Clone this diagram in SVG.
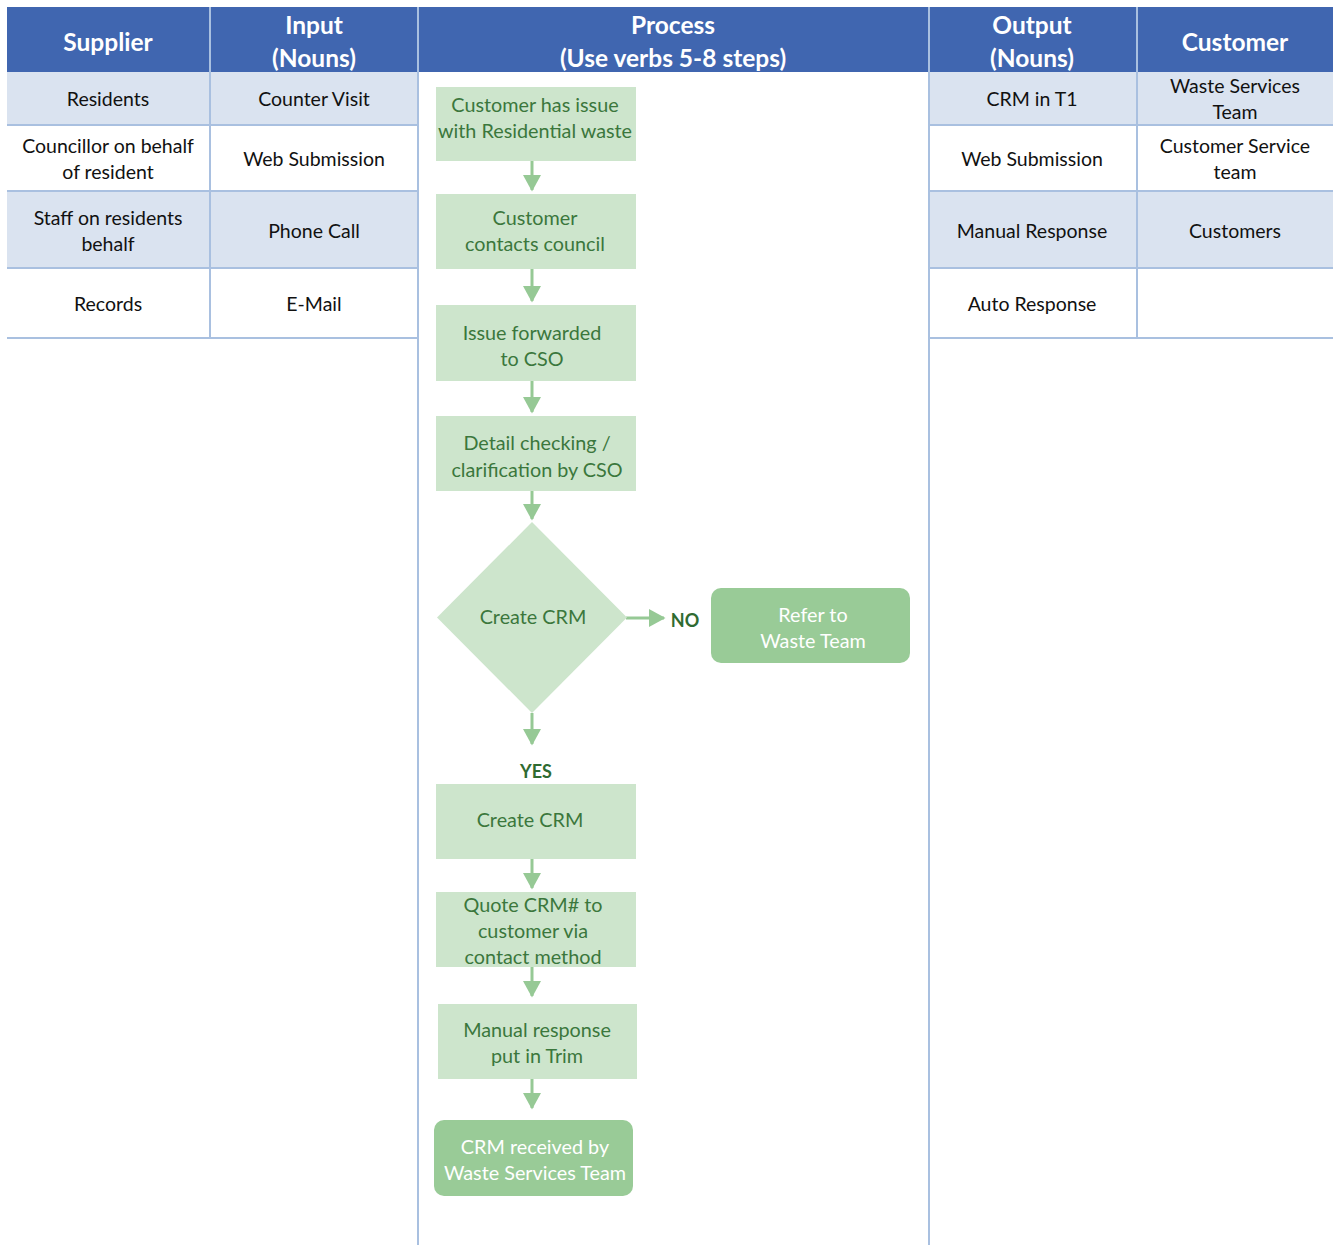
<svg xmlns="http://www.w3.org/2000/svg" width="1338" height="1245" viewBox="0 0 1338 1245">
<style>
.hdr{fill:#4066B0}
.hd{font-family:Lato,"Liberation Sans",sans-serif;font-weight:bold;font-size:24.5px;fill:#fff;text-anchor:middle;dominant-baseline:central}
.band{fill:#DAE3F0}
.grid{stroke:#A9C0E0;stroke-width:2;fill:none}
.cell{font-family:Lato,"Liberation Sans",sans-serif;font-size:19.5px;fill:#111;text-anchor:middle;dominant-baseline:central}
.box{fill:#CDE5CC}
.rbox{fill:#99CB97}
.bt{font-family:Lato,"Liberation Sans",sans-serif;font-size:19.8px;fill:#3B773C;text-anchor:middle;dominant-baseline:central}
.wt{font-family:Lato,"Liberation Sans",sans-serif;font-size:19.8px;fill:#fff;text-anchor:middle;dominant-baseline:central}
.lbl{font-family:Lato,"Liberation Sans",sans-serif;font-size:18px;font-weight:bold;fill:#2F6B31;text-anchor:middle;dominant-baseline:central}
.conn{stroke:#96C995;stroke-width:3;fill:none}
</style>
<defs>
<marker id="ah" markerWidth="6" markerHeight="6" refX="5" refY="3" orient="auto" markerUnits="strokeWidth">
<path d="M0,0 L5.5,3 L0,6 Z" fill="#96C995"/>
</marker>
</defs>
<rect width="1338" height="1245" fill="#fff"/>
<g id="table">
<rect class="hdr" x="7" y="7" width="1326" height="65"/>
<rect class="band" x="7" y="72" width="410" height="53"/>
<rect class="band" x="930" y="72" width="403" height="53"/>
<rect class="band" x="7" y="191" width="410" height="77"/>
<rect class="band" x="930" y="191" width="403" height="77"/>
<path class="grid" d="M7,125 H417 M7,191 H417 M7,268 H417 M7,338 H417 M930,125 H1333 M930,191 H1333 M930,268 H1333 M930,338 H1333"/>
<path class="grid" d="M210,72 V338 M1137,72 V338 M418,72 V1245 M929,72 V1245"/>
<path d="M210,7 V72 M418,7 V72 M929,7 V72 M1137,7 V72" stroke="#A9C0E0" stroke-width="2"/>
<text class="hd" x="108" y="41">Supplier</text>
<text class="hd" x="314" y="24">Input</text>
<text class="hd" x="314" y="57">(Nouns)</text>
<text class="hd" x="673" y="24">Process</text>
<text class="hd" x="673" y="57">(Use verbs 5-8 steps)</text>
<text class="hd" x="1032" y="24">Output</text>
<text class="hd" x="1032" y="57">(Nouns)</text>
<text class="hd" x="1235" y="41">Customer</text>
<text class="cell" x="108" y="98">Residents</text>
<text class="cell" x="314" y="98">Counter Visit</text>
<text class="cell" x="108" y="145">Councillor on behalf</text>
<text class="cell" x="108" y="171">of resident</text>
<text class="cell" x="314" y="158">Web Submission</text>
<text class="cell" x="108" y="217">Staff on residents</text>
<text class="cell" x="108" y="243">behalf</text>
<text class="cell" x="314" y="230">Phone Call</text>
<text class="cell" x="108" y="303">Records</text>
<text class="cell" x="314" y="303">E-Mail</text>
<text class="cell" x="1032" y="98">CRM in T1</text>
<text class="cell" x="1235" y="85">Waste Services</text>
<text class="cell" x="1235" y="111">Team</text>
<text class="cell" x="1032" y="158">Web Submission</text>
<text class="cell" x="1235" y="145">Customer Service</text>
<text class="cell" x="1235" y="171">team</text>
<text class="cell" x="1032" y="230">Manual Response</text>
<text class="cell" x="1235" y="230">Customers</text>
<text class="cell" x="1032" y="303">Auto Response</text>
</g>
<g id="connectors">
<path class="conn" d="M532,161 V190" marker-end="url(#ah)"/>
<path class="conn" d="M532,269 V301" marker-end="url(#ah)"/>
<path class="conn" d="M532,381 V412" marker-end="url(#ah)"/>
<path class="conn" d="M532,491 V519" marker-end="url(#ah)"/>
<path class="conn" d="M532,713 V744" marker-end="url(#ah)"/>
<path class="conn" d="M626,618 H664" marker-end="url(#ah)"/>
<path class="conn" d="M532,859 V888" marker-end="url(#ah)"/>
<path class="conn" d="M532,967 V996" marker-end="url(#ah)"/>
<path class="conn" d="M532,1079 V1108" marker-end="url(#ah)"/>
<text class="lbl" x="685" y="620">NO</text>
<text class="lbl" x="536" y="771">YES</text>
</g>
<g id="n1"><rect class="box" x="436" y="87" width="200" height="74"/><text class="bt" x="535" y="104">Customer has issue</text><text class="bt" x="535" y="130">with Residential waste</text></g>
<g id="n2"><rect class="box" x="436" y="194" width="200" height="75"/><text class="bt" x="535" y="217">Customer</text><text class="bt" x="535" y="243">contacts council</text></g>
<g id="n3"><rect class="box" x="436" y="305" width="200" height="76"/><text class="bt" x="532" y="332">Issue forwarded</text><text class="bt" x="532" y="358">to CSO</text></g>
<g id="n4"><rect class="box" x="436" y="416" width="200" height="75"/><text class="bt" x="537" y="442">Detail checking /</text><text class="bt" x="537" y="469">clarification by CSO</text></g>
<g id="d1"><polygon class="box" points="532,522 627,617.5 532,713 437,617.5"/><text class="bt" x="533" y="616">Create CRM</text></g>
<g id="n5"><rect class="rbox" x="711" y="588" width="199" height="75" rx="10"/><text class="wt" x="813" y="614">Refer to</text><text class="wt" x="813" y="640">Waste Team</text></g>
<g id="n6"><rect class="box" x="436" y="784" width="200" height="75"/><text class="bt" x="530" y="819">Create CRM</text></g>
<g id="n7"><rect class="box" x="436" y="892" width="200" height="75"/><text class="bt" x="533" y="904">Quote CRM# to</text><text class="bt" x="533" y="930">customer via</text><text class="bt" x="533" y="956">contact method</text></g>
<g id="n8"><rect class="box" x="438" y="1004" width="199" height="75"/><text class="bt" x="537" y="1029">Manual response</text><text class="bt" x="537" y="1055">put in Trim</text></g>
<g id="n9"><rect class="rbox" x="434" y="1120" width="199" height="76" rx="10"/><text class="wt" x="535" y="1146">CRM received by</text><text class="wt" x="535" y="1172">Waste Services Team</text></g>
</svg>
